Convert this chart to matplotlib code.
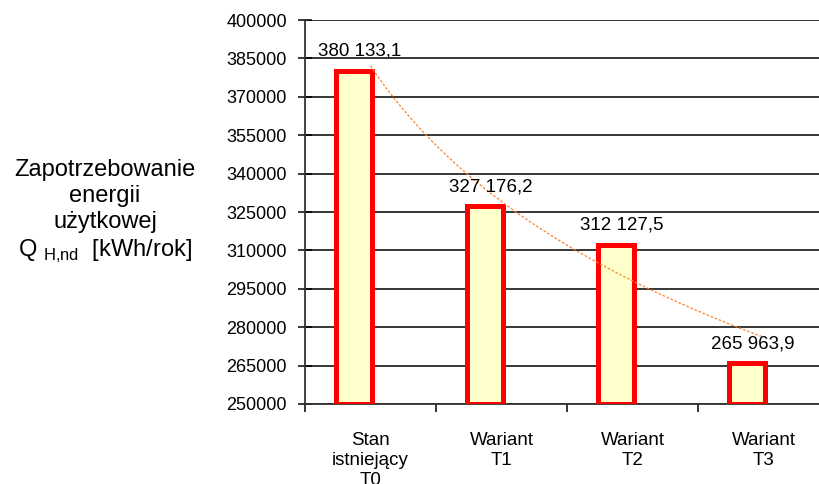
import numpy as np
import matplotlib.pyplot as plt

plt.rcParams['font.family'] = ['Liberation Sans', 'DejaVu Sans']

categories = ["Stan\nistniejący\nT0", "Wariant\nT1", "Wariant\nT2", "Wariant\nT3"]
values = [380133.1, 327176.2, 312127.5, 265963.9]
value_labels = ["380 133,1", "327 176,2", "312 127,5", "265 963,9"]
yticks = list(range(250000, 400001, 15000))

fig = plt.figure(figsize=(8.2, 4.84), dpi=100)
ax = fig.add_axes([305 / 820, 80 / 484, 524 / 820, 384 / 484])

x = np.arange(len(values))
bars = ax.bar(x - 0.125, np.array(values) - 250000, bottom=250000, width=0.27,
              color="#ffffcc", edgecolor="#ff0000", linewidth=3.6, zorder=3)

# logarithmic trend line (Excel-style)
coef = np.polyfit(np.log(x + 1), values, 1)
xt = np.linspace(0, 3, 200)
ax.plot(xt, coef[0] * np.log(xt + 1) + coef[1], linestyle=(0, (2, 1.5)),
        color="#ff7f27", linewidth=0.9, zorder=4)

for xi, v, lab in zip(x, values, value_labels):
    ax.annotate(lab, (xi - 0.125 + 0.04, v), xytext=(0, 8), textcoords="offset points",
                ha="center", va="bottom", fontsize=13.5, zorder=5)

ax.set_xlim(-0.5, 3.5)
ax.set_ylim(250000, 400000)
ax.set_yticks(yticks)
ax.set_yticklabels([str(t) for t in yticks], fontsize=13)
ax.yaxis.grid(True, color="black", linewidth=1.1, zorder=0)
ax.tick_params(axis="y", direction="inout", length=10, width=1.1, pad=8)

ax.set_xticks(x)
ax.set_xticklabels(categories, fontsize=13.5, linespacing=1.25)
ax.tick_params(axis="x", length=0, pad=20)
ax.set_xticks(np.arange(-0.5, 3.5, 1), minor=True)
ax.tick_params(axis="x", which="minor", direction="out", length=6, width=1.1)

for s in ["top", "right"]:
    ax.spines[s].set_visible(False)
for s in ["left", "bottom"]:
    ax.spines[s].set_linewidth(1.3)
    ax.spines[s].set_color("#333333")

fig.text(105 / 820, 1 - 212 / 484,
         "Zapotrzebowanie\nenergii\nużytkowej\nQ $_{\\mathregular{H{,}nd}}$  [kWh/rok]",
         ha="center", va="center", fontsize=17, linespacing=1.24)

fig.savefig("out.png", dpi=100)
